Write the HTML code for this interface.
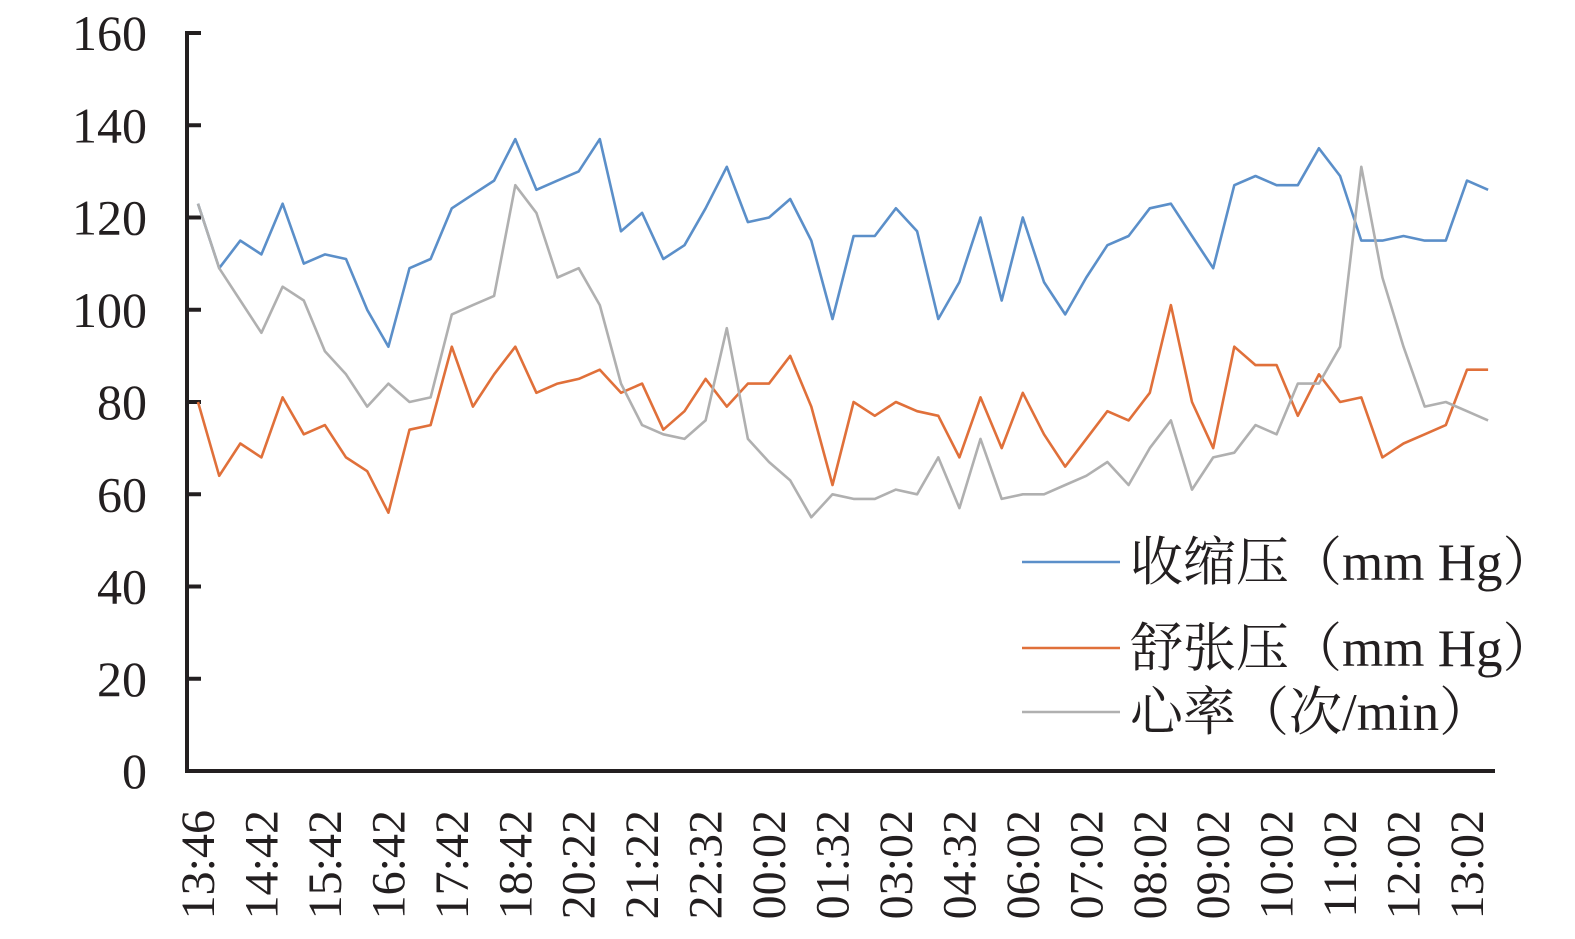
<!DOCTYPE html>
<html><head><meta charset="utf-8"><style>
body{margin:0;background:#fff;}
svg text{font-family:"Liberation Serif","Noto Serif CJK SC",serif;fill:#231f20;}
</style></head><body>
<svg id="chart" width="1575" height="934" viewBox="0 0 1575 934" xmlns="http://www.w3.org/2000/svg">
<g id="axes"></g><g id="series"></g><g id="legend"></g>
</svg>
<script>
const xLabels=["13:46","14:42","15:42","16:42","17:42","18:42","20:22","21:22","22:32","00:02","01:32","03:02","04:32","06:02","07:02","08:02","09:02","10:02","11:02","12:02","13:02"];
const yTicks=[0,20,40,60,80,100,120,140,160];
const systolic=[123,109,115,112,123,110,112,111,100,92,109,111,122,125,128,137,126,128,130,137,117,121,111,114,122,131,119,120,124,115,98,116,116,122,117,98,106,120,102,120,106,99,107,114,116,122,123,116,109,127,129,127,127,135,129,115,115,116,115,115,128,126];
const diastolic=[80,64,71,68,81,73,75,68,65,56,74,75,92,79,86,92,82,84,85,87,82,84,74,78,85,79,84,84,90,79,62,80,77,80,78,77,68,81,70,82,73,66,72,78,76,82,101,80,70,92,88,88,77,86,80,81,68,71,73,75,87,87];
const heartRate=[123,109,102,95,105,102,91,86,79,84,80,81,99,101,103,127,121,107,109,101,84,75,73,72,76,96,72,67,63,55,60,59,59,61,60,68,57,72,59,60,60,62,64,67,62,70,76,61,68,69,75,73,84,84,92,131,107,92,79,80,78,76];
const seriesNames=["收缩压（mm Hg）","舒张压（mm Hg）","心率（次/min）"];
const colors=["#5b8fc9","#e0703a","#b0b0b0"];
const NS="http://www.w3.org/2000/svg";
const y0=771,y160=33,x0=198,dx=21.15;
function yS(v){return y0-(v/160)*(y0-y160);}
function xS(i){return x0+i*dx;}
function mk(t,a,p){const e=document.createElementNS(NS,t);for(const k in a)e.setAttribute(k,a[k]);p.appendChild(e);return e;}
const axes=document.getElementById('axes');
let l=mk('line',{x1:187,y1:31,x2:187,y2:773,stroke:'#231f20','stroke-width':4},axes);


l=mk('line',{x1:185,y1:771,x2:1495,y2:771,stroke:'#231f20','stroke-width':4},axes);


yTicks.forEach(v=>{
  const t=mk('line',{x1:187,x2:201,y1:yS(v),y2:yS(v),stroke:'#231f20','stroke-width':4},axes);
  
  
  const tx=mk('text',{x:147,y:yS(v)+17,'text-anchor':'end','font-size':50},axes);
  tx.textContent=v;
  
  
});
xLabels.forEach((s,k)=>{
  const x=xS(k*3);
  const tx=mk('text',{x:0,y:0,'text-anchor':'end','font-size':48,transform:`translate(${x+16},810) rotate(-90)`},axes);
  tx.textContent=s;
  
  
});
const sg=document.getElementById('series');
[systolic,diastolic,heartRate].forEach((arr,si)=>{
  const pts=arr.map((v,i)=>xS(i).toFixed(1)+','+yS(v).toFixed(1)).join(' ');
  const p=mk('polyline',{points:pts,fill:'none',stroke:colors[si],'stroke-width':2.6,'stroke-linejoin':'round'},sg);
  
  
});
const lg=document.getElementById('legend');
const ly=[562,648,712];
seriesNames.forEach((n,i)=>{
  const ln=mk('line',{x1:1022,x2:1120,y1:ly[i],y2:ly[i],stroke:colors[i],'stroke-width':2.6},lg);
  
  
  const tx=mk('text',{x:1130,y:ly[i]+18,'font-size':53},lg);
  tx.textContent=n;
  
  
});
</script>
</body></html>
